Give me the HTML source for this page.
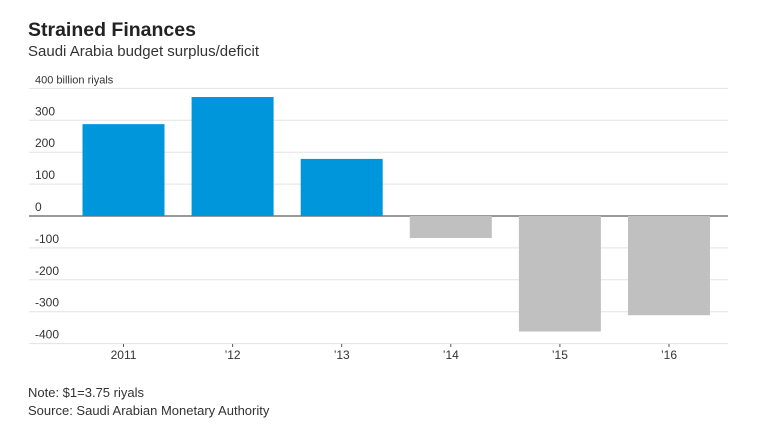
<!DOCTYPE html>
<html><head><meta charset="utf-8"><style>
body{margin:0;background:#fff;font-family:"Liberation Sans",sans-serif;}
#wrap{position:relative;width:757px;height:439px;overflow:hidden}
.t{position:absolute;white-space:nowrap;color:#333}
</style></head><body><div id="wrap">
<div class="t" style="left:28px;top:19px;font-size:19.5px;font-weight:bold;color:#222">Strained Finances</div>
<div class="t" style="left:28px;top:43px;font-size:15px;color:#333">Saudi Arabia budget surplus/deficit</div>
<svg id="svg" width="757" height="439" style="position:absolute;left:0;top:0"></svg>
<div class="t" style="left:28px;top:385px;font-size:13px">Note: $1=3.75 riyals</div>
<div class="t" style="left:28px;top:403px;font-size:13px">Source: Saudi Arabian Monetary Authority</div>
</div>
<script>
const categories=["2011","\u201912","\u201913","\u201914","\u201915","\u201916"];
const values=[288,373,179,-69,-362,-311];
const ticks=[400,300,200,100,0,-100,-200,-300,-400];
const tickLabels=["400 billion riyals","300","200","100","0","-100","-200","-300","-400"];
const svg=document.getElementById('svg');const NS="http://www.w3.org/2000/svg";
const y=v=>216-v*0.319;
const bw=82,step=109.1;
const cx=i=>123.5+step*i;
function mk(t,a){const e=document.createElementNS(NS,t);for(const k in a)e.setAttribute(k,a[k]);svg.appendChild(e);return e;}
ticks.forEach((t,i)=>{
 const l=mk('line',{x1:29,x2:728,y1:y(t),y2:y(t),stroke:t===0?'#333':'#e3e3e3','stroke-width':1});
 
 
 const tx=mk('text',{x:35,y:y(t)-5,'font-size':i===0?11:12,fill:'#333'});
 tx.textContent=tickLabels[i];
 
 
});
categories.forEach((c,i)=>{
 const v=values[i];const xc=cx(i);
 const r=mk('rect',{x:xc-bw/2,y:Math.min(y(v),y(0)),width:bw,height:Math.abs(y(v)-y(0)),fill:v>=0?'#0096db':'#c0c0c0'});
 
 
 const tk=mk('line',{x1:xc,x2:xc,y1:344,y2:347,stroke:'#555'});
 
 
 const t=mk('text',{x:xc,y:359,'font-size':12,fill:'#333','text-anchor':'middle'});
 t.textContent=c;
 
 
});
</script></body></html>
